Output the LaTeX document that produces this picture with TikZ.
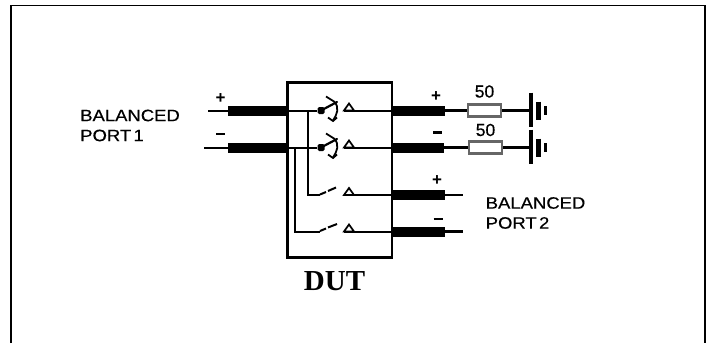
\documentclass[tikz,border=0pt]{standalone}
\usepackage{fontspec}
\setmainfont{Liberation Sans}
\newfontfamily\labfont{Liberation Sans}[FakeBold=0.35]
\newfontfamily\dutfont{Liberation Serif}
\tikzset{
  x=1pt,y=-1pt,
  wire/.style={line width=2pt,black},
  cable/.style={line width=10pt,black},
  stub/.style={line width=2.4pt,black},
  frameline/.style={line width=1.4pt,black},
  dutbox/.style={draw,line width=2.6pt,minimum width=104.5pt,minimum height=175pt,inner sep=0pt},
  res/.style={draw=black!60,fill=white,line width=2.6pt,minimum width=33pt,minimum height=11.5pt,inner sep=0pt},
  txt/.style={font=\fontsize{16.5}{18}\selectfont\labfont,xscale=1.12,inner sep=0pt,anchor=west},
  sign/.style={font=\fontsize{17}{17}\selectfont\bfseries,inner sep=0pt},
  val/.style={font=\fontsize{17.5}{18}\selectfont\labfont,inner sep=0pt},
  contact/.style={draw,line width=1.7pt,fill=white},
  dot/.style={fill=black,minimum size=7pt,inner sep=0pt,rectangle,rounded corners=1.5pt},
}
\newcommand{\tripole}[2]{%
  \draw[contact] (#1-5,#2) -- (#1+5,#2) -- (#1,#2-7) -- cycle;
}
\newcommand{\grd}[2]{%
  \draw[line width=4.4pt] (#1,#2-18) -- (#1,#2+16);
  \draw[line width=4.2pt] (#1+7.5,#2-9) -- (#1+7.5,#2+9);
  \draw[line width=3.2pt] (#1+14.5,#2-4.5) -- (#1+14.5,#2+4.5);
}
\newcommand{\throw}[2]{%
  \draw[line width=2.2pt,line cap=round] (#1,#2) -- (#1+16,#2-8.5);
  \draw[line width=1.8pt] (#1+5,#2-14) -- (#1+13,#2-9) .. controls (#1+19,#2-3) and (#1+16,#2+4) .. (#1+12,#2+10);
  \draw[line width=1.8pt] (#1+7,#2+7) -- (#1+12,#2+10.5) -- (#1+16,#2+7);
}
\begin{document}
\begin{tikzpicture}
\useasboundingbox (0,0) rectangle (710,343);
\fill[white] (0,0) rectangle (710,343);
\draw[frameline] (11,343) -- (11,5.5) -- (705,5.5) -- (705,343);
\node[dutbox] (dut) at (339.7,170) {};
\coordinate (a1) at (208,111);
\coordinate (a2) at (228,111);
\coordinate (a3) at (dut.west |- a1);
\coordinate (b1) at (204,148);
\coordinate (b2) at (228,148);
\coordinate (b3) at (dut.west |- b1);
\coordinate (c3) at (dut.east |- 0,110.5);
\coordinate (c2) at (445,110.5);
\coordinate (d3) at (dut.east |- 0,147.5);
\coordinate (d2) at (444,147.5);
\coordinate (e3) at (dut.east |- 0,195);
\coordinate (e2) at (445,195);
\coordinate (e1) at (463,195);
\coordinate (f3) at (dut.east |- 0,231.5);
\coordinate (f2) at (445,231.5);
\coordinate (f1) at (463,231.5);
\draw[stub] (a1) -- (a2);
\draw[cable] (a2) -- (a3);
\draw[stub] (b1) -- (b2);
\draw[cable] (b2) -- (b3);
\draw[cable] (c3) -- (c2);
\draw[cable] (d3) -- (d2);
\draw[cable] (e3) -- (e2);
\draw[stub] (e2) -- (e1);
\draw[cable] (f3) -- (f2);
\draw[stub] (f2) -- (f1);
\node[res] (r1) at (484.5,110.5) {};
\node[res] (r2) at (485.5,147.5) {};
\coordinate (g1) at (531,110.5);
\coordinate (g2) at (531,147.5);
\draw[stub] (c2) -- (r1.west);
\draw[stub] (r1.east) -- (g1);
\draw[stub] (d2) -- (r2.west);
\draw[stub] (r2.east) -- (g2);
\grd{531}{110.5}
\grd{531}{147.5}
\node[dot] (s1) at (321,110.5) {};
\node[dot] (s2) at (321,147.5) {};
\draw[wire] (a3 |- s1) -- (s1);
\draw[wire] (b3 |- s2) -- (s2);
\draw[wire] (307.5,110.5) -- (307.5,195) -- (320,195);
\draw[wire] (295,147.5) -- (295,231.5) -- (320,231.5);
\throw{321}{110.5}
\throw{321}{147.5}
\draw[line width=2pt] (320,194.5) -- (326,192);
\draw[line width=2pt] (328,191) -- (336,187.5);
\draw[line width=2pt] (320,231) -- (326,228.5);
\draw[line width=2pt] (328,227.5) -- (337,224);
\tripole{349}{110.5}
\tripole{349}{147.5}
\tripole{349}{195}
\tripole{349}{231.5}
\draw[wire] (344,110.5) -- (c3);
\draw[wire] (344,147.5) -- (d3);
\draw[wire] (344,195) -- (e3);
\draw[wire] (344,231.5) -- (f3);
\node[sign] (p1) at (220.5,98.5) {+};
\node[sign] (m1) at (220.5,134) {\rule{9pt}{2.2pt}};
\node[sign] (p2) at (436,97) {+};
\node[sign] (m2) at (437.5,132.5) {\rule{9pt}{2.2pt}};
\node[sign] (p3) at (437,181) {+};
\node[sign] (m3) at (438,219) {\rule{9pt}{2.2pt}};
\node[val] (v1) at (484.5,91.5) {50};
\node[val] (v2) at (485.5,130) {50};
\node[txt] (t1) at (80,115.5) {BALANCED};
\node[txt] (t2) at (80,135.5) {PORT\hspace{-2.5pt} 1};
\node[txt] (t3) at (485.5,203) {BALANCED};
\node[txt] (t4) at (485.5,223) {PORT\hspace{-2.5pt} 2};
\node[inner sep=0pt,font=\fontsize{29}{30}\selectfont\dutfont\bfseries] (t5) at (334.5,281.5) {DUT};
\end{tikzpicture}
\end{document}
